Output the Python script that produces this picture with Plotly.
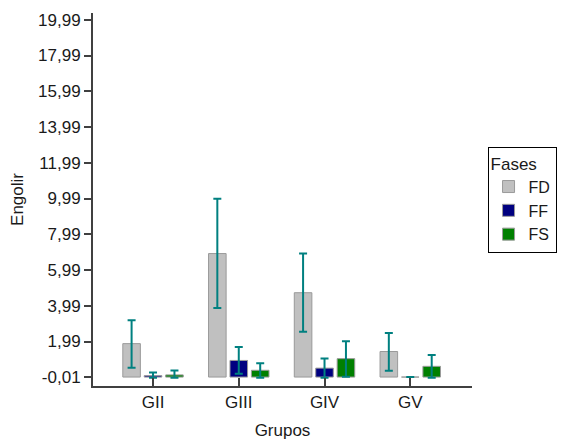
import plotly.graph_objects as go

grupos = ["GII", "GIII", "GIV", "GV"]
fases = ["FD", "FF", "FS"]

fd_mean = [1.87, 6.91, 4.72, 1.43]
fd_err_plus = [1.31, 3.07, 2.19, 1.04]
fd_err_minus = [1.35, 3.04, 2.19, 1.08]

ff_mean = [0.08, 0.93, 0.50, 0.0]
ff_err_plus = [0.18, 0.75, 0.54, 0.0]
ff_err_minus = [0.12, 0.75, 0.54, 0.0]

fs_mean = [0.12, 0.38, 1.03, 0.60]
fs_err_plus = [0.25, 0.39, 0.98, 0.63]
fs_err_minus = [0.16, 0.42, 1.01, 0.64]

ytick_vals = [-0.01, 1.99, 3.99, 5.99, 7.99, 9.99, 11.99, 13.99, 15.99, 17.99, 19.99]
ytick_text = ["-0,01", "1,99", "3,99", "5,99", "7,99", "9,99", "11,99", "13,99", "15,99", "17,99", "19,99"]

colors = {"FD": "#C0C0C0", "FF": "#000080", "FS": "#008000"}
series = {
    "FD": (fd_mean, fd_err_plus, fd_err_minus),
    "FF": (ff_mean, ff_err_plus, ff_err_minus),
    "FS": (fs_mean, fs_err_plus, fs_err_minus),
}

FONT = "Liberation Sans, Arial, sans-serif"

fig = go.Figure()
for f in fases:
    m, ep, em = series[f]
    fig.add_trace(go.Bar(
        x=grupos, y=m, name=f,
        marker=dict(color=colors[f], line=dict(color="#9A9A9A", width=1)),
        error_y=dict(type="data", symmetric=False, array=ep, arrayminus=em,
                     color="#008080", thickness=2, width=4),
    ))

fig.update_layout(
    width=567, height=445,
    margin=dict(l=93, r=95, t=13, b=59, autoexpand=False),
    paper_bgcolor="white", plot_bgcolor="white",
    barmode="group", bargap=0.25, bargroupgap=0.18,
    font=dict(family=FONT, size=17, color="#1a1a1a"),
    showlegend=True,
    legend=dict(
        title=dict(text="Fases", font=dict(size=17)),
        x=1.041, y=0.642, xanchor="left", yanchor="top",
        bordercolor="black", borderwidth=1,
        font=dict(size=16),
        tracegroupgap=0,
        itemwidth=30,
    ),
    xaxis=dict(
        range=[-0.7, 3.72],
        automargin=False,
        showline=True, linecolor="#404040", linewidth=2,
        ticks="inside", ticklen=8, tickwidth=2, tickcolor="#404040",
        showgrid=False, zeroline=False,
        title=dict(text="Grupos", font=dict(size=17), standoff=13),
        tickfont=dict(size=17),
    ),
    yaxis=dict(
        range=[-0.5, 20.37],
        automargin=False,
        tickmode="array", tickvals=ytick_vals, ticktext=ytick_text,
        showline=True, linecolor="#404040", linewidth=2,
        ticks="outside", ticklen=7, tickwidth=2, tickcolor="#404040",
        showgrid=False, zeroline=False,
        title=dict(text="Engolir", font=dict(size=17), standoff=10),
        tickfont=dict(size=17),
    ),
)

fig.write_html("out.html")
